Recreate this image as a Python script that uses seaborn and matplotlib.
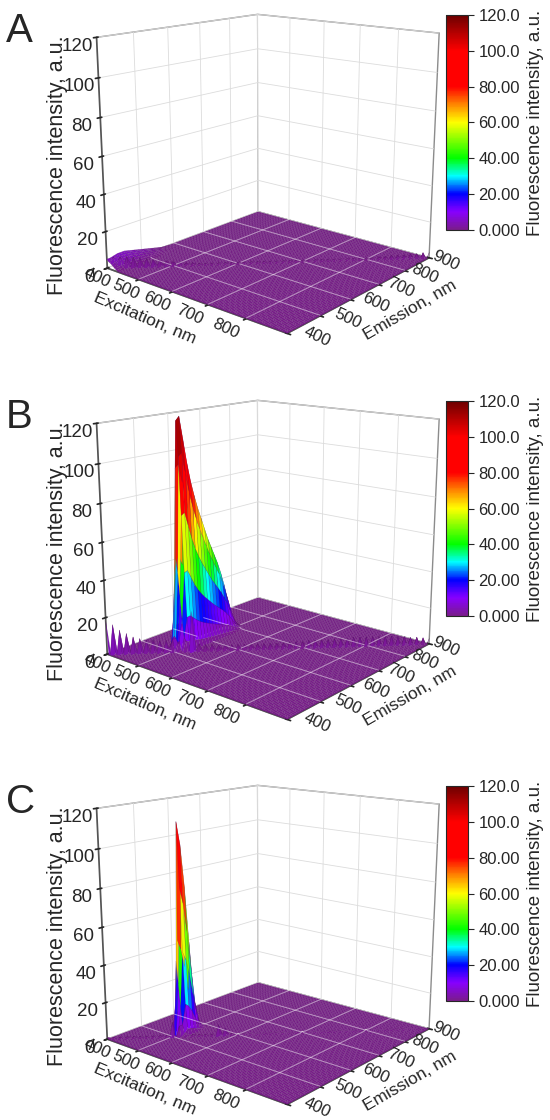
import numpy as np
import matplotlib
matplotlib.use("Agg")
import matplotlib.pyplot as plt
import seaborn as sns
from matplotlib.colors import LinearSegmentedColormap, Normalize
from matplotlib.cm import ScalarMappable

sns.set_theme(style="white")
plt.rcParams['font.family'] = ['Liberation Sans', 'DejaVu Sans']
plt.rcParams['grid.color'] = '#dcdcdc'
plt.rcParams['grid.linewidth'] = 0.6

# EEM grid, nm (excitation sampled every 5 nm, emission every 10 nm)
ex_nm = np.arange(400, 901, 5)
em_nm = np.arange(400, 901, 10)

z_ticks = [0, 20, 40, 60, 80, 100, 120]
ex_ticks = [400, 500, 600, 700, 800]
em_ticks = [400, 500, 600, 700, 800, 900]
cbar_labels = ['0.000', '20.00', '40.00', '60.00', '80.00', '100.0', '120.0']

# scatter line (excitation = emission), one value per 10 nm from 400 nm
a_scatter = [5, 6, 6, 6, 5.5, 5, 4.5, 4, 3.5, 3, 2.5, 2, 1.5, 1.5, 1, 1, 1,
             1, 1, 1, 1, 1, 1, 1, 1, 1, 1, 1, 1, 1, 1, 1, 1, 1, 1, 1, 1,
             1, 1, 1, 1, 1, 1.5, 1.5, 2, 2, 2, 2.5, 2.5, 3, 3]
b_scatter = [18, 16, 13, 11, 9, 8, 7, 7, 6.5, 6.5, 7, 6, 6, 22, 4, 3.5, 3.5,
             3, 3, 3, 3, 3, 3, 3, 3, 3, 3, 3, 3.5, 3.5, 3.5, 4, 4, 4, 4,
             4.5, 4.5, 4.5, 5, 5, 5, 5, 5, 5, 5, 4.5, 4.5, 4, 4, 3.5, 3]
c_scatter = [1, 1, 1, 1, 1, 1, 1, 1, 1, 1, 8, 6, 2, 1, 1, 1, 1, 6, 4, 1,
             0.5, 0.5, 0.5, 0.5, 0.5, 0.5, 0.5, 0.5, 0.5, 0.5, 0.5, 0.5,
             0.5, 0.5, 0.5, 0.5, 0.5, 0.5, 0.5, 0.5, 0.5, 0.5, 0.5, 0.5,
             0.5, 0.5, 0.5, 0.5, 0.5, 0.5, 0.5]

# fluorescence bands: relative excitation profile x emission profile (a.u.)
a_band_ex = [400, 405, 410, 415, 420, 425, 430]
a_band_ex_w = [1.0, 0.95, 0.85, 0.7, 0.5, 0.3, 0.15]
a_band_em = [400, 410, 420, 430, 440, 450, 460, 470, 480, 490, 500, 510,
             520, 530, 540, 550, 560, 570, 580]
a_band_em_h = [4, 5, 5.5, 6, 6, 6, 5.5, 5, 4.5, 4, 3.5, 3, 2.5, 2, 1.5, 1,
               0.5, 0.3, 0.2]

b_band_ex = [480, 485, 490, 495, 500, 505, 510, 515, 520]
b_band_ex_w = [0.1, 0.4, 0.8, 1.0, 0.85, 0.6, 0.35, 0.15, 0.04]
b_band_em = [510, 520, 530, 540, 550, 560, 570, 580, 590, 600, 610, 620,
             630, 640, 650, 660, 670, 680, 690, 700, 710]
b_band_em_h = [8, 50, 120, 122, 110, 98, 88, 80, 73, 67, 61, 55, 50, 45,
               40, 34, 27, 19, 11, 5, 1.5]

c_band_ex = [485, 490, 495, 500, 505, 510, 515]
c_band_ex_w = [0.1, 0.45, 1.0, 0.7, 0.4, 0.15, 0.03]
c_band_em = [520, 530, 540, 550, 560, 570, 580, 590]
c_band_em_h = [40, 112, 100, 78, 48, 20, 6, 1]

cmap = LinearSegmentedColormap.from_list('rainbow_origin', [
    (0.0, '#7a1c8c'), (0.083, '#8800ff'), (0.167, '#0000ff'),
    (0.25, '#00ffff'), (0.333, '#00ff00'), (0.5, '#ffff00'),
    (0.583, '#ff8800'), (0.667, '#ff0000'), (0.833, '#ff0000'),
    (1.0, '#6e0000')])
norm = Normalize(0, 120)

W, H = 550, 1120


def build_map(scatter, band_ex, band_w, band_em, band_h):
    Z = np.zeros((len(em_nm), len(ex_nm)))
    for k, v in enumerate(scatter):
        j = np.searchsorted(em_nm, 400 + 10 * k)
        i = np.searchsorted(ex_nm, 400 + 10 * k)
        Z[j, i] = v
    for e, w in zip(band_ex, band_w):
        i = np.searchsorted(ex_nm, e)
        for m, h in zip(band_em, band_h):
            j = np.searchsorted(em_nm, m)
            Z[j, i] = max(Z[j, i], w * h)
    return Z


def px_rect(x, y, w, h):
    return [x / W, 1 - (y + h) / H, w / W, h / H]


def fy(y):
    return 1 - y / H


def draw_panel(fig, Z, letter, dy):
    ax = fig.add_axes(px_rect(10, -42 + dy, 510, 400), projection='3d',
                      computed_zorder=False)
    X, Y = np.meshgrid(ex_nm, em_nm)
    ax.plot_surface(X, Y, Z, cmap=cmap, norm=norm, rstride=1, cstride=1,
                    linewidth=0.3, edgecolor=(0.3, 0.05, 0.35, 0.35),
                    antialiased=True, zorder=1)
    # light grid lines on the flat floor
    for e in ex_ticks[1:]:
        i = np.searchsorted(ex_nm, e)
        zs = np.where(Z[:, i] > 0.8, np.nan, Z[:, i] + 0.3)
        ax.plot(np.full(len(em_nm), e), em_nm, zs, color='white', lw=0.7,
                alpha=0.5, zorder=2)
    for m in em_ticks[1:-1]:
        j = np.searchsorted(em_nm, m)
        zs = np.where(Z[j, :] > 0.8, np.nan, Z[j, :] + 0.3)
        ax.plot(ex_nm, np.full(len(ex_nm), m), zs, color='white', lw=0.7,
                alpha=0.5, zorder=2)

    ax.set_xlim(400, 900)
    ax.set_ylim(400, 900)
    ax.set_zlim(0, 120)
    ax.view_init(elev=15, azim=-50)
    ax.set_proj_type('persp', focal_length=0.45)
    ax.set_box_aspect((1, 1, 1.0), zoom=0.99)

    ax.set_xticks(ex_ticks)
    ax.set_xticklabels([])
    ax.set_yticks(em_ticks)
    ax.set_yticklabels([])
    ax.set_zticks(z_ticks)
    ax.set_zticklabels([str(t) for t in z_ticks], fontsize=13.5)
    ax.zaxis.set_ticks_position('lower')
    for axis in (ax.xaxis, ax.yaxis, ax.zaxis):
        axis.set_pane_color((1, 1, 1, 1))
        axis.pane.set_edgecolor('#8c8c8c')
        axis.line.set_color('#555555')
    ax.tick_params(axis='both', pad=0)

    fig.text(58 / W, fy(165 + dy), 'Fluorescence intensity, a.u.',
             rotation=90, ha='center', va='center', fontsize=15.5)
    fig.text(145 / W, fy(318 + dy), 'Excitation, nm', rotation=-23,
             ha='center', va='center', fontsize=12.5)
    fig.text(410 / W, fy(310 + dy), 'Emission, nm', rotation=30,
             ha='center', va='center', fontsize=12.5)
    fig.text(6 / W, fy(42 + dy), letter, fontsize=29, va='baseline')

    cax = fig.add_axes(px_rect(446, 15 + dy, 22, 215))
    cb = fig.colorbar(ScalarMappable(norm=norm, cmap=cmap), cax=cax,
                      ticks=z_ticks)
    cb.set_ticklabels(cbar_labels)
    cb.ax.tick_params(labelsize=12, length=4, width=0.8, direction='out')
    cb.outline.set_linewidth(0.8)
    cb.set_label('Fluorescence intensity, a.u.', fontsize=13.5, labelpad=5)
    return ax


def floor_label(fig, ax, x, y, s, off_x, off_y):
    # project a point of the floor edge, then shift the label by pixels
    p = ax.M @ np.array([x, y, 0.0, 1.0])
    disp = ax.transData.transform((p[0] / p[3], p[1] / p[3]))
    disp = disp + np.array([off_x, -off_y])
    fx, fy_ = fig.transFigure.inverted().transform(disp)
    fig.text(fx, fy_, s, rotation=-25, ha='center', va='center',
             fontsize=12, color='#222222')


fig = plt.figure(figsize=(W / 100, H / 100), dpi=100)
maps = [
    (build_map(a_scatter, a_band_ex, a_band_ex_w, a_band_em, a_band_em_h), 'A', 0),
    (build_map(b_scatter, b_band_ex, b_band_ex_w, b_band_em, b_band_em_h), 'B', 386),
    (build_map(c_scatter, c_band_ex, c_band_ex_w, c_band_em, c_band_em_h), 'C', 771),
]
axes = [draw_panel(fig, Z, letter, dy) for Z, letter, dy in maps]

fig.canvas.draw()
for ax in axes:
    for e in ex_ticks:
        f = (e - 400) / 400
        floor_label(fig, ax, e, 400, str(e), -10 - 11 * f, 10)
    for m in em_ticks:
        f = (m - 400) / 500
        floor_label(fig, ax, 900, m, str(m), 30 - 13 * f, 3)

fig.savefig('out.png', dpi=100)
